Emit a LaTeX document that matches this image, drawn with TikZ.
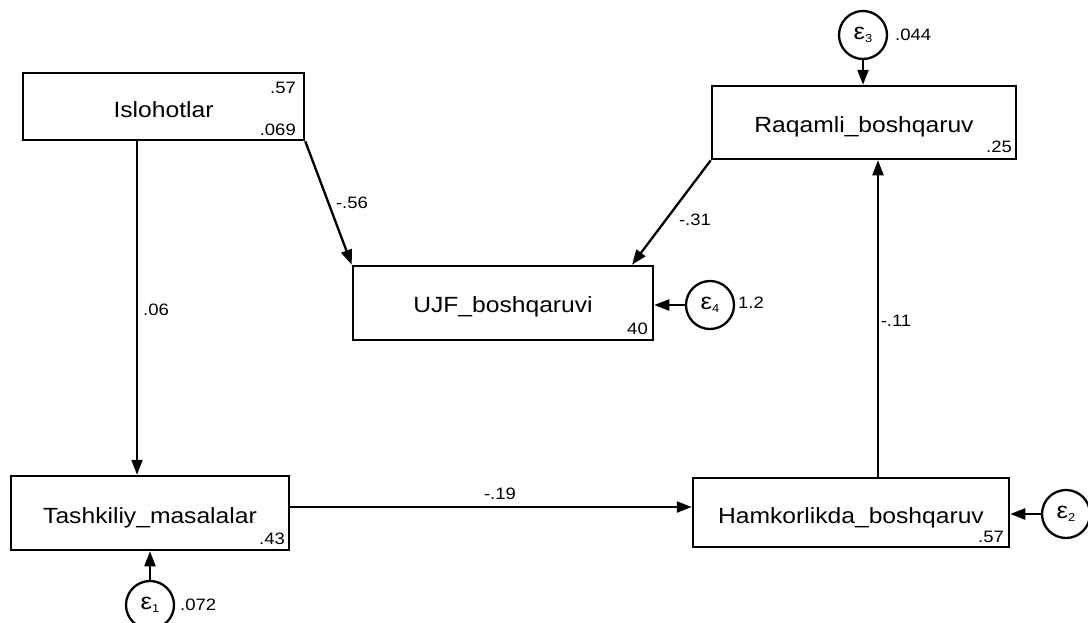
\documentclass[tikz,border=0pt]{standalone}
\usepackage{fontspec}
\setmainfont{Liberation Sans}[FakeStretch=1.12]
\usetikzlibrary{arrows.meta}
\newcommand{\eps}[1]{ε\raisebox{-3pt}{\fontsize{11.5}{12}\selectfont #1}}
\begin{document}
\begin{tikzpicture}[x=1pt,y=-1pt,
  varbox/.style={draw,line width=2.5pt,inner sep=0pt,text depth=0pt,font=\fontsize{22}{26}\selectfont},
  errc/.style={draw,circle,line width=2.3pt,minimum size=48pt,inner sep=0pt,font=\fontsize{23}{26}\selectfont},
  small/.style={inner sep=0pt,font=\fontsize{16.5}{19}\selectfont},
  arr/.style={line width=2.3pt,-{Triangle[length=15pt,width=11pt]}}]
\useasboundingbox (0,0) rectangle (1088,622);
% variables
\node[varbox,minimum width=281pt,minimum height=67pt,text height=21.6pt] (isl) at (163.5,106.5) {Islohotlar};
\node[varbox,minimum width=304pt,minimum height=73pt,text height=20.4pt] (raq) at (864,122.5) {Raqamli\_boshqaruv};
\node[varbox,minimum width=300pt,minimum height=74pt,text height=19.4pt] (ujf) at (503,303) {UJF\_boshqaruvi};
\node[varbox,minimum width=278pt,minimum height=74pt,text height=20.6pt] (tas) at (150,513) {Tashkiliy\_masalalar};
\node[varbox,minimum width=316pt,minimum height=69pt,text height=21pt] (ham) at (851,512.5) {Hamkorlikda\_boshqaruv};
% error terms
\node[errc] (e3) at (863,35) {\eps{3}};
\node[errc] (e4) at (710,305) {\eps{4}};
\node[errc] (e1) at (150,605) {\eps{1}};
\node[errc] (e2) at (1066,514) {\eps{2}};
% small numbers
\node[small,anchor=east] (n1) at (296,88) {.57};
\node[small,anchor=east] (n2) at (296,130) {.069};
\node[small,anchor=east] (n3) at (1012,147) {.25};
\node[small,anchor=east] (n4) at (648,329) {40};
\node[small,anchor=east] (n5) at (285,539) {.43};
\node[small,anchor=east] (n6) at (1004,537) {.57};
\node[small,anchor=west] (v3) at (895,35) {.044};
\node[small,anchor=west] (v4) at (738,303) {1.2};
\node[small,anchor=west] (v1) at (180,605) {.072};
% helper coordinates
\coordinate (c1) at (137,0);
\coordinate (c2) at (632,0);
\coordinate (c3) at (0,507);
\coordinate (c4) at (878,0);
% paths
\draw[arr] (isl.south -| c1) -- (tas.north -| c1);
\draw[arr] (isl.south east) -- (ujf.north west);
\draw[arr] (raq.south west) -- (ujf.north -| c2);
\draw[arr] (tas.east |- c3) -- (ham.west |- c3);
\draw[arr] (ham.north -| c4) -- (raq.south -| c4);
\draw[arr] (e3.south) -- (raq.north -| e3);
\draw[arr] (e4.west) -- (ujf.east |- e4);
\draw[arr] (e1.north) -- (tas.south -| e1);
\draw[arr] (e2.west) -- (ham.east |- e2);
% path labels
\node[small] (p1) at (156,310) {.06};
\node[small] (p2) at (352,203) {-.56};
\node[small] (p3) at (695,220) {-.31};
\node[small] (p4) at (500,494) {-.19};
\node[small] (p5) at (896,321) {-.11};
\end{tikzpicture}
\end{document}
